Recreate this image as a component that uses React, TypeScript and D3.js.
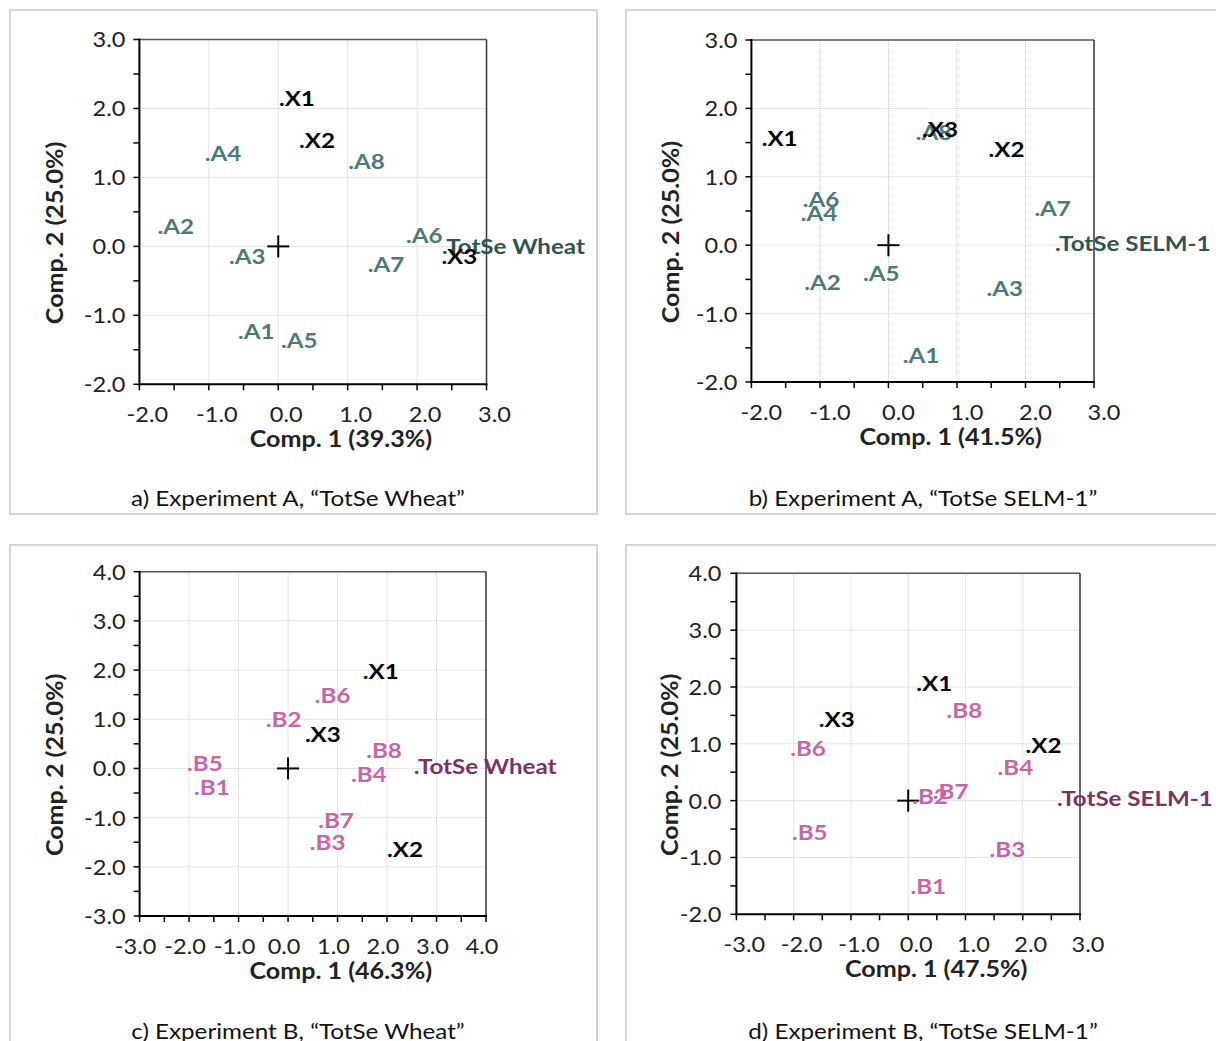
import React from "react";
import * as d3 from "d3";

const FONT = "Lato, 'Open Sans', sans-serif";

// ---------- Panel a : Experiment A, TotSe Wheat ----------
const aLabels = ["A1", "A2", "A3", "A4", "A5", "A6", "A7", "A8", "TotSe Wheat", "X1", "X2", "X3"];
const aComp1 = [-0.58, -1.74, -0.71, -1.06, 0.04, 1.84, 1.29, 1.01, 2.36, 0.01, 0.3, 2.35];
const aComp2 = [-1.25, 0.26, -0.17, 1.32, -1.38, 0.14, -0.29, 1.21, -0.03, 2.12, 1.51, -0.17];
const aKind = ["s", "s", "s", "s", "s", "s", "s", "s", "t", "x", "x", "x"];
const aXTicks = [-2, -1, 0, 1, 2, 3];
const aYTicks = [-2, -1, 0, 1, 2, 3];

// ---------- Panel b : Experiment A, TotSe SELM-1 ----------
const bLabels = ["A1", "A2", "A3", "A4", "A5", "A6", "A7", "A8", "TotSe SELM-1", "X1", "X2", "X3"];
const bComp1 = [0.21, -1.23, 1.43, -1.28, -0.37, -1.25, 2.13, 0.4, 2.43, -1.85, 1.46, 0.49];
const bComp2 = [-1.63, -0.56, -0.65, 0.44, -0.44, 0.65, 0.52, 1.62, 0.0, 1.54, 1.37, 1.67];
const bKind = ["s", "s", "s", "s", "s", "s", "s", "s", "t", "x", "x", "x"];
const bXTicks = [-2, -1, 0, 1, 2, 3];
const bYTicks = [-2, -1, 0, 1, 2, 3];

// ---------- Panel c : Experiment B, TotSe Wheat ----------
const cLabels = ["B1", "B2", "B3", "B4", "B5", "B6", "B7", "B8", "TotSe Wheat", "X1", "X2", "X3"];
const cComp1 = [-1.9, -0.45, 0.44, 1.27, -2.04, 0.54, 0.61, 1.58, 2.54, 1.51, 2.0, 0.34];
const cComp2 = [-0.42, 0.97, -1.54, -0.16, 0.06, 1.46, -1.09, 0.33, 0.0, 1.94, -1.68, 0.65];
const cKind = ["s", "s", "s", "s", "s", "s", "s", "s", "t", "x", "x", "x"];
const cXTicks = [-3, -2, -1, 0, 1, 2, 3, 4];
const cYTicks = [-3, -2, -1, 0, 1, 2, 3, 4];

// ---------- Panel d : Experiment B, TotSe SELM-1 ----------
const dLabels = ["B1", "B3", "B4", "B5", "B6", "B7", "B2", "B8", "TotSe SELM-1", "X1", "X2", "X3"];
const dComp1 = [0.04, 1.42, 1.56, -2.03, -2.06, 0.43, 0.07, 0.67, 2.6, 0.14, 2.05, -1.56];
const dComp2 = [-1.54, -0.88, 0.56, -0.58, 0.89, 0.13, 0.05, 1.56, 0.01, 2.04, 0.94, 1.4];
const dKind = ["s", "s", "s", "s", "s", "s", "s", "s", "t", "x", "x", "x"];
const dXTicks = [-3, -2, -1, 0, 1, 2, 3];
const dYTicks = [-2, -1, 0, 1, 2, 3, 4];

const fmt = (v: number) => (Math.abs(v) < 1e-9 ? "0.0" : v.toFixed(1));

type TProps = {
  x: number;
  y: number;
  size: number;
  sx: number;
  rot?: number;
  anchor?: string;
  bold?: boolean;
  fill: string;
  dy?: string;
  children: React.ReactNode;
};

function T({ x, y, size, sx, rot = 0, anchor = "start", bold = false, fill, dy, children }: TProps) {
  return (
    <text
      transform={`translate(${x},${y}) rotate(${rot}) scale(${sx},1)`}
      textAnchor={anchor}
      dy={dy}
      fontFamily={FONT}
      fontSize={size}
      fontWeight={bold ? "bold" : "normal"}
      fill={fill}
    >
      {children}
    </text>
  );
}

type PanelProps = {
  box: [number, number, number, number];
  plot: [number, number, number, number]; // x0, x1, yTop, yBottom
  labels: string[];
  comp1: number[];
  comp2: number[];
  kind: string[];
  xTicks: number[];
  yTicks: number[];
  xTitle: string;
  yTitle: string;
  caption: string;
  captionX: number;
  captionY: number;
  sampleColor: string;
  totalColor: string;
  yLabelGap: number;
  yTitleX: number;
  xLabelShift: number;
};

function Panel(p: PanelProps) {
  const [x0, x1, yt, yb] = p.plot;
  const x = d3.scaleLinear().domain(d3.extent(p.xTicks) as [number, number]).range([x0, x1]);
  const y = d3.scaleLinear().domain(d3.extent(p.yTicks) as [number, number]).range([yb, yt]);
  const xMinor = d3.range(p.xTicks[0], p.xTicks[p.xTicks.length - 1] + 0.01, 0.5);
  const yMinor = d3.range(p.yTicks[0], p.yTicks[p.yTicks.length - 1] + 0.01, 0.5);
  const cx = (x0 + x1) / 2 + 28;
  const cy = (yt + yb) / 2 + 21;
  const color = (k: string) => (k === "x" ? "#000" : k === "t" ? p.totalColor : p.sampleColor);
  return (
    <g>
      <rect x={p.box[0]} y={p.box[1]} width={p.box[2]} height={p.box[3]} fill="none" stroke="#d6d6d6" strokeWidth={2} />
      {p.xTicks.slice(1, -1).map((t) => (
        <line key={"gx" + t} x1={x(t)} x2={x(t)} y1={yt} y2={yb} stroke="#c9c9c9" strokeWidth={1} strokeDasharray="1,1" />
      ))}
      {p.yTicks.slice(1, -1).map((t) => (
        <line key={"gy" + t} x1={x0} x2={x1} y1={y(t)} y2={y(t)} stroke="#c9c9c9" strokeWidth={1} strokeDasharray="1,1" />
      ))}
      <line x1={x0} x2={x1} y1={yt} y2={yt} stroke="#555" strokeWidth={1.5} />
      <line x1={x1} x2={x1} y1={yt} y2={yb} stroke="#333" strokeWidth={1.5} />
      <line x1={x0} x2={x0} y1={yt - 1} y2={yb + 1} stroke="#000" strokeWidth={2} />
      <line x1={x0 - 1} x2={x1 + 1} y1={yb} y2={yb} stroke="#000" strokeWidth={2} />
      {yMinor.map((t) => (
        <line key={"ty" + t} x1={x0 - 6} x2={x0} y1={y(t)} y2={y(t)} stroke="#000" strokeWidth={1.5} />
      ))}
      {xMinor.map((t) => (
        <line key={"tx" + t} x1={x(t)} x2={x(t)} y1={yb} y2={yb + 6} stroke="#000" strokeWidth={1.5} />
      ))}
      {p.yTicks.map((t) => (
        <T key={"ly" + t} x={x0 - p.yLabelGap} y={y(t)} dy="0.36em" anchor="end" size={22} sx={1.07} fill="#222">
          {fmt(t)}
        </T>
      ))}
      {p.xTicks.map((t) => (
        <T key={"lx" + t} x={x(t) + p.xLabelShift} y={yb + 38} anchor="middle" size={22} sx={1.07} fill="#222">
          {fmt(t)}
        </T>
      ))}
      <T x={cx} y={yb + 63} anchor="middle" size={22} sx={1.14} bold fill="#222">
        {p.xTitle}
      </T>
      <T x={p.yTitleX} y={cy} rot={-90} anchor="middle" dy="0.36em" size={22} sx={1.14} bold fill="#222">
        {p.yTitle}
      </T>
      <line x1={x(0) - 11} x2={x(0) + 11} y1={y(0)} y2={y(0)} stroke="#000" strokeWidth={2} />
      <line x1={x(0)} x2={x(0)} y1={y(0) - 11} y2={y(0) + 11} stroke="#000" strokeWidth={2} />
      {p.labels.map((lab, i) => (
        <T key={"p" + i} x={x(p.comp1[i])} y={y(p.comp2[i]) + 6} size={21} sx={1.15} bold fill={color(p.kind[i])}>
          {"." + lab}
        </T>
      ))}
      <T x={p.captionX} y={p.captionY} anchor="middle" size={22} sx={1.1} fill="#111">
        {p.caption}
      </T>
    </g>
  );
}

export default function App() {
  const A_COL = "#4b7a78";
  const A_TOT = "#2f5552";
  const B_COL = "#c765aa";
  const B_TOT = "#7d3169";
  return (
    <svg width={1216} height={1041} style={{ position: "absolute", left: 0, top: 0, background: "#fff" }}>
      <rect width={1216} height={1041} fill="#fff" />
      <Panel
        box={[10, 10, 587, 504]}
        plot={[139.4, 486.5, 39.5, 384.3]}
        labels={aLabels}
        comp1={aComp1}
        comp2={aComp2}
        kind={aKind}
        xTicks={aXTicks}
        yTicks={aYTicks}
        xTitle="Comp. 1 (39.3%)"
        yTitle="Comp. 2 (25.0%)"
        caption="a) Experiment A, “TotSe Wheat”"
        captionX={298}
        captionY={506}
        sampleColor={A_COL}
        totalColor={A_TOT}
        yLabelGap={14}
        yTitleX={55}
        xLabelShift={8}
      />
      <Panel
        box={[626, 10, 600, 504]}
        plot={[751.4, 1094, 40, 382]}
        labels={bLabels}
        comp1={bComp1}
        comp2={bComp2}
        kind={bKind}
        xTicks={bXTicks}
        yTicks={bYTicks}
        xTitle="Comp. 1 (41.5%)"
        yTitle="Comp. 2 (25.0%)"
        caption="b) Experiment A, “TotSe SELM-1”"
        captionX={923}
        captionY={506}
        sampleColor={A_COL}
        totalColor={A_TOT}
        yLabelGap={14}
        yTitleX={671}
        xLabelShift={10}
      />
      <Panel
        box={[10, 545, 587, 510]}
        plot={[139.6, 486, 571.7, 916]}
        labels={cLabels}
        comp1={cComp1}
        comp2={cComp2}
        kind={cKind}
        xTicks={cXTicks}
        yTicks={cYTicks}
        xTitle="Comp. 1 (46.3%)"
        yTitle="Comp. 2 (25.0%)"
        caption="c) Experiment B, “TotSe Wheat”"
        captionX={298}
        captionY={1039}
        sampleColor={B_COL}
        totalColor={B_TOT}
        yLabelGap={14}
        yTitleX={55}
        xLabelShift={-4}
      />
      <Panel
        box={[626, 545, 600, 510]}
        plot={[736.4, 1080, 573.3, 914.3]}
        labels={dLabels}
        comp1={dComp1}
        comp2={dComp2}
        kind={dKind}
        xTicks={dXTicks}
        yTicks={dYTicks}
        xTitle="Comp. 1 (47.5%)"
        yTitle="Comp. 2 (25.0%)"
        caption="d) Experiment B, “TotSe SELM-1”"
        captionX={923}
        captionY={1039}
        sampleColor={B_COL}
        totalColor={B_TOT}
        yLabelGap={15}
        yTitleX={670}
        xLabelShift={8}
      />
    </svg>
  );
}
